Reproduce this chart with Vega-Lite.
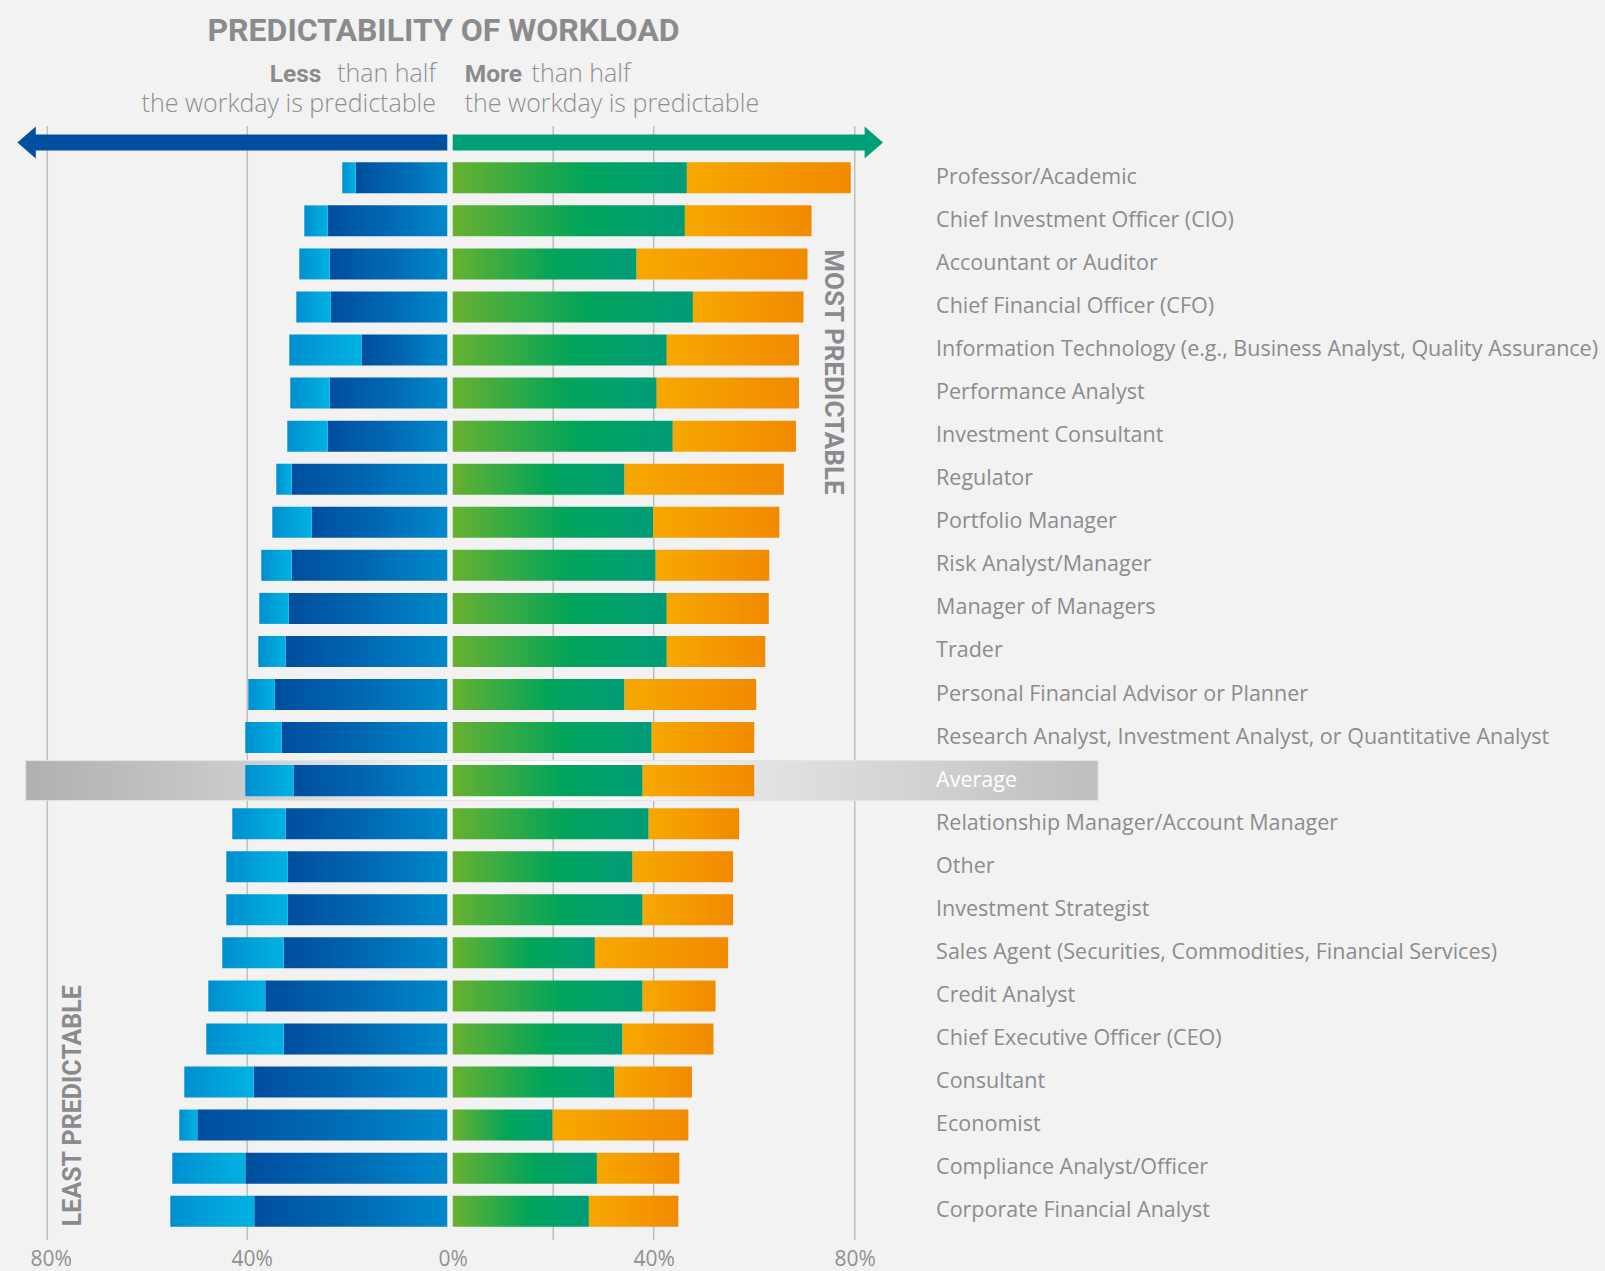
{
  "$schema": "https://vega.github.io/schema/vega-lite/v6.json",
  "width": 900,
  "height": 1114,
  "autosize": {"type": "none"},
  "padding": {"left": 0, "top": 126, "right": 705, "bottom": 31},
  "background": "#f2f2f2",
  "config": {"view": {"stroke": null}},
  "datasets": {
    "roles": [
      {"role": "Professor/Academic", "lessTotal": 21.0, "lessDark": 18.3, "moreGreen": 46.6, "moreTotal": 79.2},
      {"role": "Chief Investment Officer (CIO)", "lessTotal": 28.6, "lessDark": 23.9, "moreGreen": 46.2, "moreTotal": 71.4},
      {"role": "Accountant or Auditor", "lessTotal": 29.6, "lessDark": 23.5, "moreGreen": 36.6, "moreTotal": 70.6},
      {"role": "Chief Financial Officer (CFO)", "lessTotal": 30.2, "lessDark": 23.3, "moreGreen": 47.8, "moreTotal": 69.8},
      {"role": "Information Technology (e.g., Business Analyst, Quality Assurance)", "lessTotal": 31.6, "lessDark": 17.1, "moreGreen": 42.6, "moreTotal": 68.9},
      {"role": "Performance Analyst", "lessTotal": 31.4, "lessDark": 23.5, "moreGreen": 40.6, "moreTotal": 68.9},
      {"role": "Investment Consultant", "lessTotal": 32.0, "lessDark": 23.9, "moreGreen": 43.8, "moreTotal": 68.3},
      {"role": "Regulator", "lessTotal": 34.2, "lessDark": 31.1, "moreGreen": 34.2, "moreTotal": 65.9},
      {"role": "Portfolio Manager", "lessTotal": 35.0, "lessDark": 27.1, "moreGreen": 39.9, "moreTotal": 65.0},
      {"role": "Risk Analyst/Manager", "lessTotal": 37.2, "lessDark": 31.1, "moreGreen": 40.4, "moreTotal": 63.0},
      {"role": "Manager of Managers", "lessTotal": 37.6, "lessDark": 31.7, "moreGreen": 42.6, "moreTotal": 62.9},
      {"role": "Trader", "lessTotal": 37.8, "lessDark": 32.3, "moreGreen": 42.6, "moreTotal": 62.2},
      {"role": "Personal Financial Advisor or Planner", "lessTotal": 39.8, "lessDark": 34.5, "moreGreen": 34.2, "moreTotal": 60.4},
      {"role": "Research Analyst, Investment Analyst, or Quantitative Analyst", "lessTotal": 40.4, "lessDark": 33.1, "moreGreen": 39.6, "moreTotal": 60.0},
      {"role": "Average", "lessTotal": 40.4, "lessDark": 30.7, "moreGreen": 37.8, "moreTotal": 60.0},
      {"role": "Relationship Manager/Account Manager", "lessTotal": 43.0, "lessDark": 32.3, "moreGreen": 39.0, "moreTotal": 57.0},
      {"role": "Other", "lessTotal": 44.2, "lessDark": 31.9, "moreGreen": 35.8, "moreTotal": 55.8},
      {"role": "Investment Strategist", "lessTotal": 44.2, "lessDark": 31.9, "moreGreen": 37.8, "moreTotal": 55.8},
      {"role": "Sales Agent (Securities, Commodities, Financial Services)", "lessTotal": 45.0, "lessDark": 32.7, "moreGreen": 28.3, "moreTotal": 54.8},
      {"role": "Credit Analyst", "lessTotal": 47.8, "lessDark": 36.4, "moreGreen": 37.8, "moreTotal": 52.3},
      {"role": "Chief Executive Officer (CEO)", "lessTotal": 48.2, "lessDark": 32.7, "moreGreen": 33.8, "moreTotal": 51.9},
      {"role": "Consultant", "lessTotal": 52.6, "lessDark": 38.7, "moreGreen": 32.2, "moreTotal": 47.6},
      {"role": "Economist", "lessTotal": 53.6, "lessDark": 50.0, "moreGreen": 19.9, "moreTotal": 46.9},
      {"role": "Compliance Analyst/Officer", "lessTotal": 55.0, "lessDark": 40.4, "moreGreen": 28.7, "moreTotal": 45.1},
      {"role": "Corporate Financial Analyst", "lessTotal": 55.4, "lessDark": 38.6, "moreGreen": 27.1, "moreTotal": 44.9}
    ]
  },
  "resolve": {"scale": {"x": "independent"}},
  "layer": [
    {
      "layer": [
        {
          "data": {"values": [{"g": 40}, {"g": 80}]},
          "mark": {"type": "rule", "color": "#bfbfbf", "strokeWidth": 1.5},
          "encoding": {"x": {"field": "g", "type": "quantitative", "scale": {"domain": [-90.54, 89.46], "reverse": true, "nice": false, "zero": false}, "axis": null}}
        }
      ]
    },
    {
      "layer": [
        {
          "data": {"values": [{"g": 20}, {"g": 40}, {"g": 80}]},
          "mark": {"type": "rule", "color": "#bfbfbf", "strokeWidth": 1.5},
          "encoding": {"x": {"field": "g", "type": "quantitative", "scale": {"domain": [-90.09, 89.01], "nice": false, "zero": false},
            "axis": {"orient": "bottom", "values": [-80, -40, 0, 40, 80], "labelExpr": "abs(datum.value) + '%'", "labelFont": "Open Sans", "labelFontSize": 21, "labelColor": "#909090", "labelPadding": 8, "labelFlush": false, "labelOverlap": false, "domain": false, "ticks": false, "grid": false, "title": null}}}
        },
        {
          "data": {"values": [{"from": 0, "to": 82.45, "row": "Professor/Academic"}]},
          "mark": {"type": "rule", "color": "#00a077", "strokeWidth": 16, "yOffset": -35.3},
          "encoding": {
            "x": {"field": "from", "type": "quantitative", "title": null},
            "x2": {"field": "to"},
            "y": {"field": "row", "type": "nominal", "title": null}
          }
        },
        {
          "data": {"values": [{"at": 82.45, "row": "Professor/Academic"}]},
          "mark": {"type": "point", "shape": "M 1 0 L -0.15 -1 L -0.15 1 Z", "size": 1024, "filled": true, "opacity": 1, "color": "#00a077", "yOffset": -35.3},
          "encoding": {
            "x": {"field": "at", "type": "quantitative", "title": null},
            "y": {"field": "row", "type": "nominal", "title": null}
          }
        },
        {
          "data": {"values": [{"from": -84.98, "to": 128.42, "row": "Average"}]},
          "mark": {"type": "bar", "height": 40, "stroke": "#e3e3e3", "strokeWidth": 1, "fill": {"gradient": "linear", "x1": 0, "y1": 0, "x2": 1, "y2": 0, "stops": [{"offset": 0, "color": "#afb0b2"}, {"offset": 0.206, "color": "#cbccce"}, {"offset": 0.393, "color": "#f6f6f6"}, {"offset": 0.5, "color": "#ffffff"}, {"offset": 0.68, "color": "#e3e3e4"}, {"offset": 0.806, "color": "#d5d5d7"}, {"offset": 1, "color": "#bdbec0"}]}},
          "encoding": {
            "x": {"field": "from", "type": "quantitative", "title": null},
            "x2": {"field": "to"},
            "y": {"field": "row", "type": "nominal", "title": null}
          }
        },
        {
          "data": {"name": "roles"},
          "mark": {"type": "bar", "fill": {"gradient": "linear", "x1": 0, "y1": 0, "x2": 1, "y2": 0, "stops": [{"offset": 0, "color": "#68b130"}, {"offset": 0.57, "color": "#00a45b"}, {"offset": 1, "color": "#009c78"}]}},
          "encoding": {
            "x": {"field": "moreGreen", "type": "quantitative", "stack": null, "title": null},
            "y": {"field": "role", "type": "nominal",
              "scale": {"domain": ["Professor/Academic", "Chief Investment Officer (CIO)", "Accountant or Auditor", "Chief Financial Officer (CFO)", "Information Technology (e.g., Business Analyst, Quality Assurance)", "Performance Analyst", "Investment Consultant", "Regulator", "Portfolio Manager", "Risk Analyst/Manager", "Manager of Managers", "Trader", "Personal Financial Advisor or Planner", "Research Analyst, Investment Analyst, or Quantitative Analyst", "Average", "Relationship Manager/Account Manager", "Other", "Investment Strategist", "Sales Agent (Securities, Commodities, Financial Services)", "Credit Analyst", "Chief Executive Officer (CEO)", "Consultant", "Economist", "Compliance Analyst/Officer", "Corporate Financial Analyst"], "paddingInner": 0.28, "paddingOuter": 0.576, "align": 0.732},
              "axis": {"orient": "right", "zindex": 2, "labelPadding": 35.6, "labelFont": "Open Sans", "labelFontSize": 21.5, "labelFontWeight": 500, "labelAlign": "left", "labelBaseline": "middle", "labelLimit": 1000, "labelColor": {"condition": {"test": "datum.value === 'Average'", "value": "#ffffff"}, "value": "#8c8c8c"}, "domain": false, "ticks": false, "grid": false, "title": null}}
          }
        },
        {
          "data": {"name": "roles"},
          "mark": {"type": "bar", "fill": {"gradient": "linear", "x1": 0, "y1": 0, "x2": 1, "y2": 0, "stops": [{"offset": 0, "color": "#f7a800"}, {"offset": 1, "color": "#f18a00"}]}},
          "encoding": {
            "x": {"field": "moreGreen", "type": "quantitative", "title": null},
            "x2": {"field": "moreTotal"},
            "y": {"field": "role", "type": "nominal", "title": null}
          }
        },
        {
          "data": {"values": [{"t": "MOST PREDICTABLE", "at": 75.62, "row": "Accountant or Auditor"}]},
          "mark": {"type": "text", "angle": 90, "align": "left", "baseline": "middle", "font": "Roboto", "fontWeight": "bold", "fontSize": 26, "color": "#8b8b8e", "yOffset": -14.6},
          "encoding": {
            "text": {"field": "t"},
            "x": {"field": "at", "type": "quantitative", "title": null},
            "y": {"field": "row", "type": "nominal", "title": null}
          }
        },
        {
          "data": {"values": [{"t": "More", "at": 2.39, "row": "Professor/Academic"}]},
          "mark": {"type": "text", "align": "left", "baseline": "alphabetic", "font": "Roboto", "fontWeight": "bold", "fontSize": 24.5, "color": "#8b8b8e", "yOffset": -96.1},
          "encoding": {
            "text": {"field": "t"},
            "x": {"field": "at", "type": "quantitative", "title": null},
            "y": {"field": "row", "type": "nominal", "title": null}
          }
        },
        {
          "data": {"values": [{"t": "than half", "at": 15.7, "row": "Professor/Academic"}]},
          "mark": {"type": "text", "align": "left", "baseline": "alphabetic", "font": "Open Sans", "fontWeight": 300, "fontSize": 25, "color": "#8e8e8e", "yOffset": -96.1},
          "encoding": {
            "text": {"field": "t"},
            "x": {"field": "at", "type": "quantitative", "title": null},
            "y": {"field": "row", "type": "nominal", "title": null}
          }
        },
        {
          "data": {"values": [{"t": "the workday is predictable", "at": 2.39, "row": "Professor/Academic"}]},
          "mark": {"type": "text", "align": "left", "baseline": "alphabetic", "font": "Open Sans", "fontWeight": 300, "fontSize": 25, "color": "#8e8e8e", "yOffset": -66.1},
          "encoding": {
            "text": {"field": "t"},
            "x": {"field": "at", "type": "quantitative", "title": null},
            "y": {"field": "row", "type": "nominal", "title": null}
          }
        }
      ]
    },
    {
      "layer": [
        {
          "data": {"values": [{"from": 0, "to": 82.5, "row": "Professor/Academic"}]},
          "mark": {"type": "rule", "color": "#0050a0", "strokeWidth": 16, "yOffset": -35.3},
          "encoding": {
            "x": {"field": "from", "type": "quantitative", "scale": {"domain": [-90.54, 89.46], "reverse": true, "nice": false, "zero": false}, "axis": null},
            "x2": {"field": "to"},
            "y": {"field": "row", "type": "nominal", "title": null}
          }
        },
        {
          "data": {"values": [{"at": 82.78, "row": "Professor/Academic"}]},
          "mark": {"type": "point", "shape": "M -1 0 L 0.15 -1 L 0.15 1 Z", "size": 1024, "filled": true, "opacity": 1, "color": "#0050a0", "yOffset": -35.3},
          "encoding": {
            "x": {"field": "at", "type": "quantitative", "axis": null},
            "y": {"field": "row", "type": "nominal", "title": null}
          }
        },
        {
          "data": {"name": "roles"},
          "mark": {"type": "bar", "fill": {"gradient": "linear", "x1": 0, "y1": 0, "x2": 1, "y2": 0, "stops": [{"offset": 0, "color": "#004e9e"}, {"offset": 0.5, "color": "#0068b3"}, {"offset": 1, "color": "#0089cb"}]}},
          "encoding": {
            "x": {"field": "lessDark", "type": "quantitative", "stack": null, "axis": null},
            "y": {"field": "role", "type": "nominal", "title": null}
          }
        },
        {
          "data": {"name": "roles"},
          "mark": {"type": "bar", "fill": {"gradient": "linear", "x1": 0, "y1": 0, "x2": 1, "y2": 0, "stops": [{"offset": 0, "color": "#008fcf"}, {"offset": 1, "color": "#00b2e3"}]}},
          "encoding": {
            "x": {"field": "lessTotal", "type": "quantitative", "axis": null},
            "x2": {"field": "lessDark"},
            "y": {"field": "role", "type": "nominal", "title": null}
          }
        },
        {
          "data": {"values": [{"t": "LEAST PREDICTABLE", "at": 74.86, "row": "Corporate Financial Analyst"}]},
          "mark": {"type": "text", "angle": 270, "align": "left", "baseline": "middle", "font": "Roboto", "fontWeight": "bold", "fontSize": 25, "color": "#8b8b8e", "yOffset": 15},
          "encoding": {
            "text": {"field": "t"},
            "x": {"field": "at", "type": "quantitative", "axis": null},
            "y": {"field": "row", "type": "nominal", "title": null}
          }
        },
        {
          "data": {"values": [{"t": "PREDICTABILITY OF WORKLOAD", "at": 0.76, "row": "Professor/Academic"}]},
          "mark": {"type": "text", "align": "center", "baseline": "alphabetic", "font": "Roboto", "fontWeight": "bold", "fontSize": 32, "color": "#8b8b8e", "yOffset": -136.5},
          "encoding": {
            "text": {"field": "t"},
            "x": {"field": "at", "type": "quantitative", "axis": null},
            "y": {"field": "row", "type": "nominal", "title": null}
          }
        },
        {
          "data": {"values": [{"t": "Less", "at": 25.2, "row": "Professor/Academic"}]},
          "mark": {"type": "text", "align": "right", "baseline": "alphabetic", "font": "Roboto", "fontWeight": "bold", "fontSize": 24.5, "color": "#8b8b8e", "yOffset": -96.1},
          "encoding": {
            "text": {"field": "t"},
            "x": {"field": "at", "type": "quantitative", "axis": null},
            "y": {"field": "row", "type": "nominal", "title": null}
          }
        },
        {
          "data": {"values": [{"t": "than half", "at": 2.26, "row": "Professor/Academic"}]},
          "mark": {"type": "text", "align": "right", "baseline": "alphabetic", "font": "Open Sans", "fontWeight": 300, "fontSize": 25, "color": "#8e8e8e", "yOffset": -96.1},
          "encoding": {
            "text": {"field": "t"},
            "x": {"field": "at", "type": "quantitative", "axis": null},
            "y": {"field": "row", "type": "nominal", "title": null}
          }
        },
        {
          "data": {"values": [{"t": "the workday is predictable", "at": 2.26, "row": "Professor/Academic"}]},
          "mark": {"type": "text", "align": "right", "baseline": "alphabetic", "font": "Open Sans", "fontWeight": 300, "fontSize": 25, "color": "#8e8e8e", "yOffset": -66.1},
          "encoding": {
            "text": {"field": "t"},
            "x": {"field": "at", "type": "quantitative", "axis": null},
            "y": {"field": "row", "type": "nominal", "title": null}
          }
        }
      ]
    }
  ]
}
